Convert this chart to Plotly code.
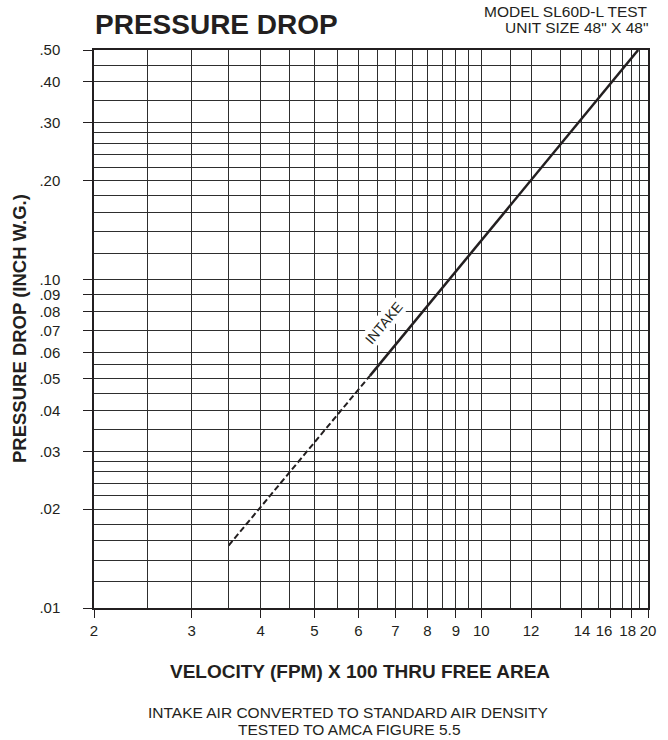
import plotly.graph_objects as go

# ---- data ----
# x gridline / tick positions (velocity, FPM x 100) as they appear on the chart
x_major_vals = [2, 3, 4, 5, 6, 7, 8, 9, 10, 12.3, 15.2, 17.1, 18.7, 20]
x_major_text = ["2", "3", "4", "5", "6", "7", "8", "9", "10", "12", "14", "16", "18", "20"]
x_minor_vals = [2.5, 3.5, 4.5, 5.5, 6.5, 7.5, 8.5, 9.5, 11.3, 13.9, 16.3, 18.0, 19.3]

# y gridline / tick positions (pressure drop, inch w.g.)
y_major_vals = [0.01, 0.02, 0.03, 0.04, 0.05, 0.06, 0.07, 0.08, 0.09, 0.10, 0.20, 0.30, 0.40, 0.50]
y_major_text = [".01", ".02", ".03", ".04", ".05", ".06", ".07", ".08", ".09", ".10", ".20", ".30", ".40", ".50"]
y_minor_vals = [0.012, 0.014, 0.016, 0.018, 0.022, 0.024, 0.026, 0.028, 0.035, 0.045, 0.055,
                0.12, 0.14, 0.16, 0.18, 0.22, 0.24, 0.26, 0.28, 0.35, 0.45]

# intake curve: dashed (extrapolated) part and solid (tested) part
intake_dashed_v = [3.5, 6.3]
intake_dashed_dp = [0.0155, 0.051]
intake_solid_v = [6.3, 19.2]
intake_solid_dp = [0.051, 0.50]

INK = "#231f20"
GRID = "#2e2e2e"
FONT = "Liberation Sans, Arial, Helvetica, sans-serif"
NB = "\u00a0"

# the crowded labels at the right end are nudged apart as in the reference
label_pad = {"16": 3, "18": 2}
x_tick_display = [t + NB * label_pad.get(t, 0) for t in x_major_text]

fig = go.Figure()
fig.add_trace(go.Scatter(x=intake_dashed_v, y=intake_dashed_dp, mode="lines",
                         line=dict(color=INK, width=2, dash="6px,3px"),
                         showlegend=False, hoverinfo="skip"))
fig.add_trace(go.Scatter(x=intake_solid_v, y=intake_solid_dp, mode="lines",
                         line=dict(color=INK, width=2.5),
                         showlegend=False, hoverinfo="skip"))

axis_common = dict(
    type="log",
    showgrid=True, gridcolor=GRID, gridwidth=1.2,
    showline=True, linecolor=INK, linewidth=1.5, mirror=True,
    ticks="outside", tickcolor=INK, tickwidth=1.3,
    tickmode="array",
    zeroline=False,
)

fig.update_xaxes(**axis_common,
                 range=[0.30103, 1.30103],
                 tickvals=x_major_vals, ticktext=x_tick_display, ticklen=8,
                 tickangle=0,
                 tickfont=dict(family=FONT, size=15, color=INK),
                 minor=dict(tickmode="array", tickvals=x_minor_vals, showgrid=True,
                            gridcolor=GRID, gridwidth=1.2, ticks=""))
fig.update_yaxes(**axis_common,
                 range=[-2, -0.30103],
                 tickvals=y_major_vals, ticktext=y_major_text, ticklen=9,
                 ticklabelstandoff=20,
                 tickfont=dict(family=FONT, size=15, color=INK),
                 minor=dict(tickmode="array", tickvals=y_minor_vals, showgrid=True,
                            gridcolor=GRID, gridwidth=1.2, ticks=""))

W, H = 668, 740
L, R, T, B = 94, 16, 50, 132
pw, ph = W - L - R, H - T - B

def px(xp):
    return (xp - L) / pw

def py(yp):
    return (H - B - yp) / ph

ann = []
ann.append(dict(text="PRESSURE DROP", x=px(93), y=py(25), xanchor="left", yanchor="middle",
                font=dict(family=FONT, size=28, color=INK, weight="bold")))
ann.append(dict(text="MODEL SL60D-L TEST", x=px(654), y=py(11.5), xanchor="right", yanchor="middle",
                font=dict(family=FONT, size=15.5, color=INK)))
ann.append(dict(text="UNIT SIZE 48\" X 48\"", x=px(654), y=py(27), xanchor="right", yanchor="middle",
                font=dict(family=FONT, size=15.5, color=INK)))
ann.append(dict(text="PRESSURE DROP (INCH W.G.)", x=px(18.5), y=0.5, textangle=-90,
                xanchor="center", yanchor="middle",
                font=dict(family=FONT, size=18.5, color=INK, weight="bold")))
ann.append(dict(text="VELOCITY (FPM) X 100 THRU FREE AREA", x=px(362), y=py(671), xanchor="center",
                yanchor="middle", font=dict(family=FONT, size=19, color=INK, weight="bold")))
ann.append(dict(text="INTAKE AIR CONVERTED TO STANDARD AIR DENSITY", x=px(349.5), y=py(712),
                xanchor="center", yanchor="middle", font=dict(family=FONT, size=15.5, color=INK)))
ann.append(dict(text="TESTED TO AMCA FIGURE 5.5", x=px(351), y=py(729), xanchor="center",
                yanchor="middle", font=dict(family=FONT, size=15.5, color=INK)))
for a in ann:
    a.update(xref="paper", yref="paper", showarrow=False)

# curve label, placed in data coordinates (log axes take log10 values)
ann.append(dict(text="INTAKE", xref="x", yref="y", x=0.824, y=-1.132, showarrow=False,
                textangle=-50, bgcolor="white", borderpad=1,
                font=dict(family=FONT, size=14, color=INK)))

fig.update_layout(
    width=W, height=H,
    margin=dict(l=L, r=R, t=T, b=B, pad=0),
    paper_bgcolor="white", plot_bgcolor="white",
    annotations=ann,
    showlegend=False,
)

fig.write_html("out.html", config={"displayModeBar": False},
               post_script="document.body.style.margin='0';document.body.style.padding='0';")
